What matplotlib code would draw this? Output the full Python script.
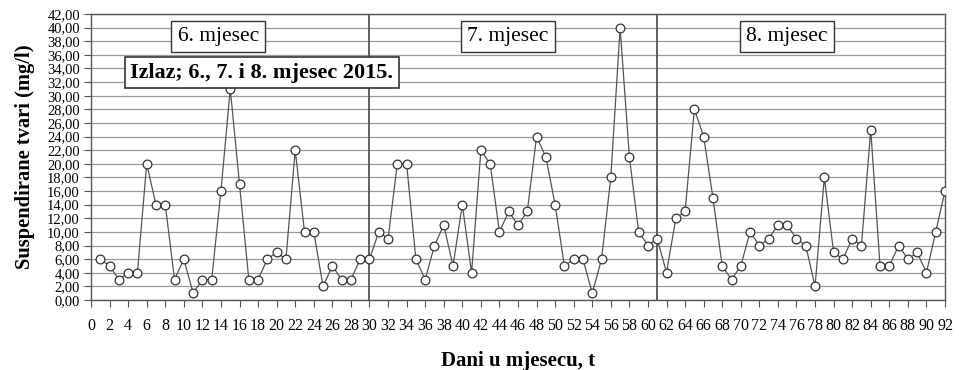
import matplotlib.pyplot as plt
from matplotlib.ticker import FuncFormatter, MultipleLocator

# Dani (1..92) i izmjerene vrijednosti suspendiranih tvari (mg/l)
jun = [6, 5, 3, 4, 4, 20, 14, 14, 3, 6, 1, 3, 3, 16, 31, 17, 3, 3, 6, 7,
       6, 22, 10, 10, 2, 5, 3, 3, 6, 6]
jul = [10, 9, 20, 20, 6, 3, 8, 11, 5, 14, 4, 22, 20, 10, 13, 11, 13, 24, 21, 14,
       5, 6, 6, 1, 6, 18, 40, 21, 10, 8, 9]
aug = [4, 12, 13, 28, 24, 15, 5, 3, 5, 10, 8, 9, 11, 11, 9, 8, 2, 18, 7, 6,
       9, 8, 25, 5, 5, 8, 6, 7, 4, 10, 16]
values = jun + jul + aug
days = list(range(1, len(values) + 1))
month_bounds = [len(jun), len(jun) + len(jul)]
month_labels = ["6. mjesec", "7. mjesec", "8. mjesec"]
month_label_x = [13.7, 44.9, 75.0]

plt.rcParams["font.family"] = "Liberation Serif"

fig = plt.figure(figsize=(9.59, 3.70), dpi=100)
ax = fig.add_axes([91 / 959, 70 / 370, 854 / 959, 286 / 370])

ax.plot(days, values, "-", color="#555555", linewidth=0.9,
        marker="o", markersize=6.3, markerfacecolor="white",
        markeredgecolor="#333333", markeredgewidth=0.9, zorder=3)

for b in month_bounds:
    ax.axvline(b, color="#555555", linewidth=1.3, zorder=2)

ax.set_xlim(0, 92)
ax.set_ylim(0, 42)
ax.xaxis.set_major_locator(MultipleLocator(2))
ax.yaxis.set_major_locator(MultipleLocator(2))
ax.yaxis.set_major_formatter(FuncFormatter(lambda v, p: f"{v:.2f}".replace(".", ",")))
ax.grid(axis="y", color="#999999", linewidth=0.9)
ax.set_axisbelow(True)
ax.tick_params(axis="x", labelsize=11.5, length=5, direction="out", pad=8,
               color="#555555")
ax.tick_params(axis="y", labelsize=10.5, length=5, direction="out", pad=3,
               color="#555555")
for s in ax.spines.values():
    s.set_color("#555555")
    s.set_linewidth(1.0)

ax.set_ylabel("Suspendirane tvari (mg/l)", fontsize=14.8, fontweight="bold", labelpad=9)
ax.set_xlabel("Dani u mjesecu, t", fontsize=15, fontweight="bold", labelpad=12)

for lbl, xm in zip(month_labels, month_label_x):
    ax.text(xm, 38.7, lbl, ha="center", va="center", fontsize=15.5,
            bbox=dict(boxstyle="square,pad=0.3", facecolor="white",
                      edgecolor="#333333", linewidth=1.0), zorder=4)

ax.text(18.4, 33.4, "Izlaz; 6., 7. i 8. mjesec 2015.", ha="center", va="center",
        fontsize=16, fontweight="bold",
        bbox=dict(boxstyle="square,pad=0.25", facecolor="white",
                  edgecolor="#333333", linewidth=1.2), zorder=4)

fig.savefig("out.png", dpi=100, facecolor="white")
